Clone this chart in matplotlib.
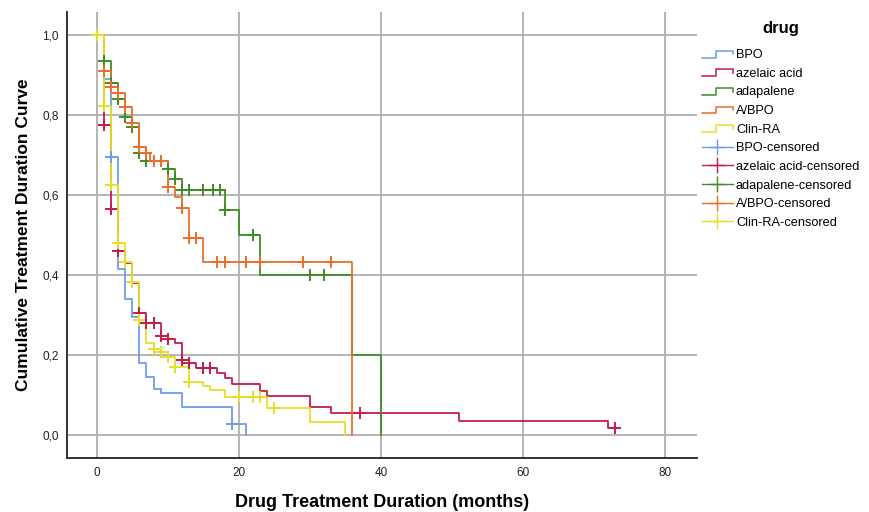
"""Kaplan-Meier style plot: cumulative treatment duration by drug."""
import matplotlib
matplotlib.use('Agg')
import matplotlib.pyplot as plt
from matplotlib.lines import Line2D
from matplotlib.legend_handler import HandlerBase
import numpy as np

plt.rcParams.update({
    'font.family': ['Liberation Sans Narrow', 'Liberation Sans', 'DejaVu Sans'],
    'font.size': 9,
})

# ---- data ----
drugs = ['BPO', 'azelaic acid', 'adapalene', 'A/BPO', 'Clin-RA']
colors = ['#6d9ceb', '#c41d4b', '#3f8c27', '#ea6f2c', '#e4e02a']

bpo_t = [0, 1, 2, 3, 4, 5, 6, 7, 8, 9, 12, 19, 21]
bpo_s = [1.0, 0.89, 0.695, 0.415, 0.34, 0.295, 0.18, 0.145, 0.115, 0.105, 0.07, 0.0275, 0.0]
bpo_cens = [2, 19]

aze_t = [0, 1, 2, 3, 4, 5, 6, 7, 9, 10, 11, 12, 13, 14, 17, 18, 19, 23, 24, 30, 33, 51, 72, 73]
aze_s = [1.0, 0.775, 0.565, 0.46, 0.43, 0.38, 0.305, 0.28, 0.2475, 0.24, 0.23, 0.1875, 0.18,
         0.1675, 0.155, 0.1425, 0.1275, 0.11, 0.0975, 0.07, 0.055, 0.035, 0.0175, 0.0175]
aze_cens = [1, 2, 3, 6, 7, 8, 9, 10, 12, 13, 15, 16, 37, 73]

ada_t = [0, 1, 2, 3, 4, 5, 6, 7, 10, 11, 12, 18, 20, 23, 36, 40]
ada_s = [1.0, 0.935, 0.88, 0.84, 0.795, 0.77, 0.705, 0.685, 0.665, 0.64, 0.6125, 0.5625,
         0.5, 0.4, 0.2, 0.0]
ada_cens = [1, 2, 3, 4, 5, 6, 7, 10, 11, 12, 13, 15, 16.3, 17.3, 18, 22, 30, 32]

abpo_t = [0, 1, 2, 3, 4, 5, 6, 7, 7.5, 10, 11, 12, 13, 15, 36]
abpo_s = [1.0, 0.91, 0.87, 0.855, 0.82, 0.78, 0.72, 0.705, 0.685, 0.62, 0.595, 0.5675,
          0.4925, 0.4325, 0.0]
abpo_cens = [1, 2, 3, 4, 5, 6, 7, 8, 9, 10, 12, 13, 14, 17, 18, 21, 23, 29, 33]

clin_t = [0, 1, 2, 3, 4, 5, 6, 7, 8, 9, 10, 11, 13, 15, 16, 18, 24, 30, 35]
clin_s = [1.0, 0.8225, 0.625, 0.48, 0.4325, 0.3825, 0.2875, 0.23, 0.215, 0.2075, 0.195,
          0.17, 0.1325, 0.1225, 0.1125, 0.095, 0.0675, 0.0325, 0.0]
clin_cens = [0, 1, 2, 3, 4, 5, 6, 8, 9, 10, 11, 13, 20, 22, 23, 25]

curves = [(bpo_t, bpo_s, bpo_cens), (aze_t, aze_s, aze_cens), (ada_t, ada_s, ada_cens),
          (abpo_t, abpo_s, abpo_cens), (clin_t, clin_s, clin_cens)]

xticks = [0, 20, 40, 60, 80]
yticks = [0.0, 0.2, 0.4, 0.6, 0.8, 1.0]


def surv_at(t, s, x):
    idx = np.searchsorted(t, x, side='right') - 1
    return np.asarray(s)[idx]


# step-shaped legend handle
class StepHandler(HandlerBase):
    def create_artists(self, legend, orig, xd, yd, w, h, fontsize, trans):
        xs = [xd, xd + 0.45 * w, xd + 0.45 * w, xd + w, xd + w]
        ys = [yd + 0.05 * h, yd + 0.05 * h, yd + 0.8 * h, yd + 0.8 * h, yd + 0.4 * h]
        ln = Line2D(xs, ys, color=orig.get_color(), lw=1.1, transform=trans)
        return [ln]


fig = plt.figure(figsize=(8.69, 5.12), dpi=100)
ax = fig.add_axes([0.077, 0.105, 0.725, 0.872])
ax.set_xlim(-4.2, 84.5)
ax.set_ylim(-0.0575, 1.0575)

ax.set_xticks(xticks)
ax.set_yticks(yticks)
ax.set_yticklabels([f'{v:.1f}'.replace('.', ',') for v in yticks])
ax.grid(True, color='#b4b4b4', lw=1.4)
ax.set_axisbelow(True)
ax.tick_params(length=0, pad=6, labelsize=8.5, colors='#222222')
for sp in ['top', 'right']:
    ax.spines[sp].set_visible(False)
for sp in ['left', 'bottom']:
    ax.spines[sp].set_color('#333333')
    ax.spines[sp].set_linewidth(1.4)

line_handles = []
for (t, s, c), name, col in zip(curves, drugs, colors):
    ln, = ax.step(t, s, where='post', color=col, lw=1.3, label=name)
    line_handles.append(ln)

cens_handles = []
for (t, s, c), name, col in zip(curves, drugs, colors):
    ys = surv_at(t, s, c)
    ax.plot(c, ys, linestyle='none', marker='+', markersize=9, mew=1.4,
            color=col, label=name + '-censored')
    cens_handles.append(Line2D([0], [0], color=col, marker='+', markersize=12,
                               mew=1.0, lw=1.0))

ax.set_xlabel('Drug Treatment Duration (months)', fontsize=13, fontweight='bold',
              labelpad=11)
ax.set_ylabel('Cumulative Treatment Duration Curve', fontsize=12.5, fontweight='bold',
              labelpad=8)

handler_map = {h: StepHandler() for h in line_handles}
leg = fig.legend(line_handles + cens_handles,
                 drugs + [d + '-censored' for d in drugs],
                 handler_map=handler_map, loc='upper left',
                 bbox_to_anchor=(0.802, 0.968), frameon=False, fontsize=9.2,
                 title='drug', title_fontproperties={'weight': 'bold', 'size': 12},
                 handlelength=2.4, handletextpad=0.25, labelspacing=0.52,
                 borderaxespad=0)
leg._legend_box.align = 'center'
leg._legend_box.sep = 9

fig.savefig('out.png', dpi=100)
